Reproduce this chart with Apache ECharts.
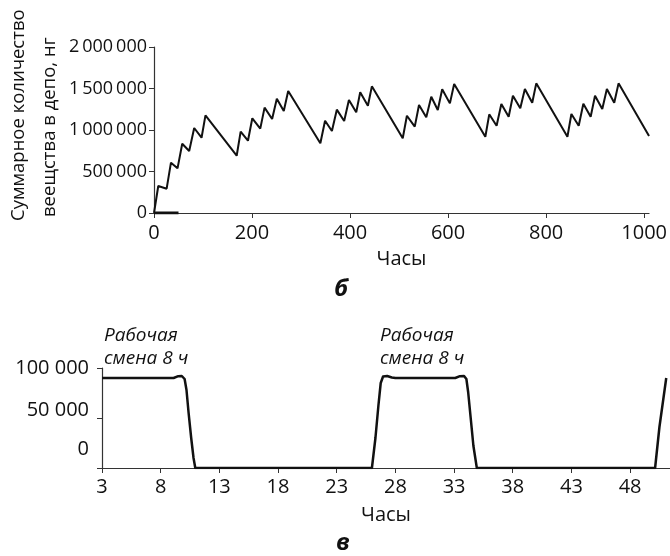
<!DOCTYPE html>
<html>
<head>
<meta charset="utf-8">
<script src="https://cdn.jsdelivr.net/npm/echarts@6/dist/echarts.min.js"></script>
<style>
  html, body { margin: 0; padding: 0; background: #fff; }
  #chart { width: 670px; height: 556px; }
</style>
</head>
<body>
<div id="chart"></div>
<script>
// top panel (б): total amount in depot vs hours
const depotHours = [0, 8.7, 25.8, 34.6, 48, 57.6, 71.8, 82, 97, 105,
  168.7, 176.8, 191.7, 200.6, 216.8, 225.6, 241, 250.6, 264.8, 273.8,
  339.4, 349, 363, 373, 388, 397.7, 412.6, 420.7, 436.4, 444.5,
  507.5, 516, 532, 540.7, 555.5, 565.7, 579, 588, 603.7, 612.4,
  676, 684, 699, 708.7, 723.6, 732.3, 747.3, 756.7, 771.7, 779.9,
  843.5, 851.6, 866.5, 876, 890.9, 899.8, 914.6, 924, 939, 947.8, 1010]
const depotAmount = [0, 325000, 293000, 606000, 538000, 835000, 747000, 1024000, 907000, 1177000,
  690000, 980000, 871000, 1141000, 1016000, 1269000, 1133000, 1377000, 1229000, 1470000,
  840000, 1112000, 988000, 1245000, 1108000, 1361000, 1213000, 1454000, 1293000, 1526000,
  900000, 1172000, 1040000, 1301000, 1153000, 1401000, 1241000, 1490000, 1321000, 1554000,
  919000, 1189000, 1052000, 1313000, 1160000, 1413000, 1261000, 1494000, 1329000, 1562000,
  919000, 1193000, 1052000, 1317000, 1160000, 1413000, 1253000, 1494000, 1329000, 1562000, 928000]
// short flat piece at zero near the origin
const baseHours = [0, 50]
const baseAmount = [0, 0]
const depotTicks = [0, 200, 400, 600, 800, 1000]

// bottom panel (в): work shifts
const shiftHours = [3, 9.1, 9.5, 9.8, 10.04, 10.2, 10.38, 10.6, 10.8, 10.95,
  26.0, 26.3, 26.55, 26.75, 26.95, 27.3, 27.7, 28.0, 33.1, 33.5, 33.85, 34.05, 34.2, 34.4, 34.65, 34.94,
  50.13, 50.5, 51.08]
const shiftValue = [90000, 90000, 91800, 92000, 89000, 78000, 55000, 30000, 10000, 0,
  0, 30000, 62000, 85000, 91500, 92000, 90500, 90000, 90000, 91800, 92000, 89000, 76000, 52000, 22000, 0,
  0, 41000, 90000]
const shiftTicks = [3, 8, 13, 18, 23, 28, 33, 38, 43, 48]

const font = "'Open Sans', 'Noto Sans', sans-serif"
const axisColor = '#333'

const pairs = (xs, ys) => xs.map((x, i) => [x, ys[i]])
const spaced = (v, sep) => String(v).replace(/\B(?=(\d{3})+(?!\d))/g, sep)

const chart = echarts.init(document.getElementById('chart'))

const option = {
  animation: false,
  backgroundColor: '#fff',
  textStyle: { fontFamily: font, color: '#111' },
  grid: [
    { left: 154, right: 19, top: 47, height: 166 },
    { left: 102, right: 0, top: 368, height: 100 }
  ],
  xAxis: [
    {
      gridIndex: 0, type: 'value', min: 0, max: 1010,
      name: 'Часы', nameLocation: 'middle', nameGap: 36,
      nameTextStyle: { fontSize: 20, color: '#111', fontFamily: font },
      axisLine: { lineStyle: { color: axisColor, width: 1.2 } },
      axisTick: { length: 5, lineStyle: { color: axisColor }, customValues: depotTicks },
      axisLabel: { fontSize: 20, color: '#111', margin: 10, customValues: depotTicks, formatter: v => String(v) },
      splitLine: { show: false }
    },
    {
      gridIndex: 1, type: 'value', min: 3, max: 51.4,
      name: 'Часы', nameLocation: 'middle', nameGap: 37,
      nameTextStyle: { fontSize: 20, color: '#111', fontFamily: font },
      axisLine: { lineStyle: { color: axisColor, width: 1.2 } },
      axisTick: { length: 5, lineStyle: { color: axisColor }, customValues: shiftTicks },
      axisLabel: { fontSize: 20, color: '#111', margin: 9, customValues: shiftTicks, formatter: v => String(v) },
      splitLine: { show: false }
    }
  ],
  yAxis: [
    {
      gridIndex: 0, type: 'value', min: 0, max: 2000000, interval: 500000,
      axisLine: { show: true, lineStyle: { color: axisColor, width: 1.2 } },
      axisTick: { show: true, length: 5, lineStyle: { color: axisColor } },
      axisLabel: {
        fontSize: 18, color: '#111', margin: 7,
        formatter: v => spaced(v, '\u2009')
      },
      splitLine: { show: false }
    },
    {
      gridIndex: 1, type: 'value', min: 0, max: 100000, interval: 50000,
      axisLine: { show: true, lineStyle: { color: axisColor, width: 1.2 } },
      axisTick: { show: true, length: 5, lineStyle: { color: axisColor } },
      axisLabel: {
        fontSize: 20, color: '#111', margin: 13,
        // labels in the original sit a bit above their ticks
        formatter: v => v === 0 ? '{z|0}' : v === 50000 ? '{h|' + spaced(v, ' ') + '}' : '{n|' + spaced(v, ' ') + '}',
        rich: {
          z: { fontSize: 20, padding: [0, 0, 38, 0] },
          h: { fontSize: 20, padding: [0, 0, 16, 0] },
          n: { fontSize: 20 }
        }
      },
      splitLine: { show: false }
    }
  ],
  series: [
    {
      type: 'line', xAxisIndex: 0, yAxisIndex: 0,
      data: pairs(depotHours, depotAmount),
      showSymbol: false, symbol: 'none',
      lineStyle: { color: '#111', width: 2 }
    },
    {
      type: 'line', xAxisIndex: 0, yAxisIndex: 0,
      data: pairs(baseHours, baseAmount),
      showSymbol: false, symbol: 'none',
      lineStyle: { color: '#111', width: 3 }
    },
    {
      type: 'line', xAxisIndex: 1, yAxisIndex: 1,
      data: pairs(shiftHours, shiftValue),
      showSymbol: false, symbol: 'none',
      lineStyle: { color: '#111', width: 2.5, join: 'round' }
    }
  ],
  graphic: [
    {
      type: 'text', x: 19, y: 221, rotation: Math.PI / 2,
      style: { text: 'Суммарное количество', font: '18.5px ' + font, fill: '#111', align: 'left', verticalAlign: 'middle' }
    },
    {
      type: 'text', x: 50, y: 217, rotation: Math.PI / 2,
      style: { text: 'веещства в депо, нг', font: '18.5px ' + font, fill: '#111', align: 'left', verticalAlign: 'middle' }
    },
    {
      type: 'text', x: 341, y: 289,
      style: { text: 'б', font: 'italic bold 24px ' + font, fill: '#111', align: 'center', verticalAlign: 'middle' }
    },
    {
      type: 'text', x: 343, y: 543,
      style: { text: 'в', font: 'italic bold 24px ' + font, fill: '#111', align: 'center', verticalAlign: 'middle' }
    },
    {
      type: 'text', x: 104, y: 324,
      style: { text: 'Рабочая\nсмена 8 ч', font: 'italic 19px ' + font, lineHeight: 23, fill: '#111', align: 'left', verticalAlign: 'top' }
    },
    {
      type: 'text', x: 380, y: 324,
      style: { text: 'Рабочая\nсмена 8 ч', font: 'italic 19px ' + font, lineHeight: 23, fill: '#111', align: 'left', verticalAlign: 'top' }
    }
  ]
}

chart.setOption(option)
</script>
</body>
</html>
